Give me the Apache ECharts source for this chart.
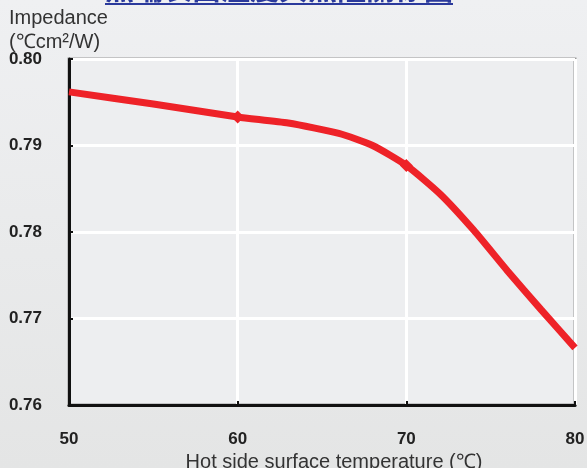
<!DOCTYPE html>
<html>
<head>
<meta charset="utf-8">
<script src="https://cdn.jsdelivr.net/npm/echarts@6/dist/echarts.min.js"></script>
<style>
  html, body { margin: 0; padding: 0; }
  body { width: 587px; height: 468px; background: linear-gradient(#eff0f2, #e4e5e5); }
  #chart { width: 587px; height: 468px; }
</style>
</head>
<body>
<div id="chart"></div>
<script>
// 熱端溫度 vs 熱阻
const temps = [50, 55, 60, 63, 66, 68, 70, 72, 74, 76, 78, 80];
const impedance = [0.7962, 0.7948, 0.7933, 0.7926, 0.7914, 0.7900, 0.7877, 0.7844, 0.7802, 0.7755, 0.7710, 0.7666];
const markedTemps = [60, 70];
const xTicks = [50, 60, 70, 80];
const yTicks = [0.76, 0.77, 0.78, 0.79, 0.80];

const chart = echarts.init(document.getElementById('chart'));

const lineData = temps.map((t, i) => {
  if (markedTemps.includes(t)) {
    return { value: [t, impedance[i]], symbol: 'diamond', symbolSize: 13 };
  }
  return { value: [t, impedance[i]], symbolSize: 0 };
});

const option = {
  backgroundColor: 'transparent',
  animation: false,
  graphic: [
    {
      type: 'text', left: 105, top: -26,
      style: { text: '熱端表面溫度與熱阻關係圖', fill: '#2b3a9c',
        font: 'bold 29px "Noto Sans CJK TC"' }
    },
    {
      type: 'rect', shape: { x: 105, y: 3, width: 348, height: 2 },
      style: { fill: '#2b3a9c' }
    },
    {
      type: 'text', left: 9, top: 8,
      style: { text: 'Impedance', fill: '#333', font: '20px "Liberation Sans"' }
    },
    {
      type: 'text', left: 9, top: 32,
      style: { text: '(℃cm²/W)', fill: '#333', font: '20px "Liberation Sans"' }
    }
  ],
  grid: {
    left: 69, right: 12, top: 59, bottom: 63,
    outerBoundsMode: 'none',
    show: true, borderColor: '#9a9a9a', borderWidth: 3, backgroundColor: '#edeef0'
  },
  xAxis: {
    type: 'value', min: xTicks[0], max: xTicks[xTicks.length - 1], interval: 10,
    name: 'Hot side surface temperature (℃)',
    nameLocation: 'middle', nameGap: 46,
    nameTextStyle: { color: '#333', fontSize: 20, fontFamily: 'Liberation Sans', padding: [0, 0, 0, 24] },
    axisLine: { lineStyle: { color: '#111', width: 3 } },
    axisTick: { inside: true, length: 4, lineStyle: { color: '#111', width: 2 } },
    axisLabel: { color: '#222', fontSize: 17, fontWeight: 'bold', fontFamily: 'Liberation Sans', margin: 26 },
    splitLine: { show: true, lineStyle: { color: '#ffffff', width: 3 } }
  },
  yAxis: {
    type: 'value', min: yTicks[0], max: yTicks[yTicks.length - 1], interval: 0.01,
    axisLine: { show: true, lineStyle: { color: '#111', width: 3 } },
    axisTick: { show: true, inside: true, length: 4, lineStyle: { color: '#111', width: 2 } },
    axisLabel: {
      color: '#222', fontSize: 17, fontWeight: 'bold', fontFamily: 'Liberation Sans', margin: 27,
      formatter: v => v.toFixed(2)
    },
    splitLine: { show: true, lineStyle: { color: '#ffffff', width: 3 } }
  },
  series: [
    {
      type: 'line',
      data: lineData,
      smooth: 0.2,
      symbol: 'none',
      itemStyle: { color: '#ee2228' },
      lineStyle: { color: '#ee2228', width: 7 }
    }
  ]
};

chart.setOption(option);
</script>
</body>
</html>
